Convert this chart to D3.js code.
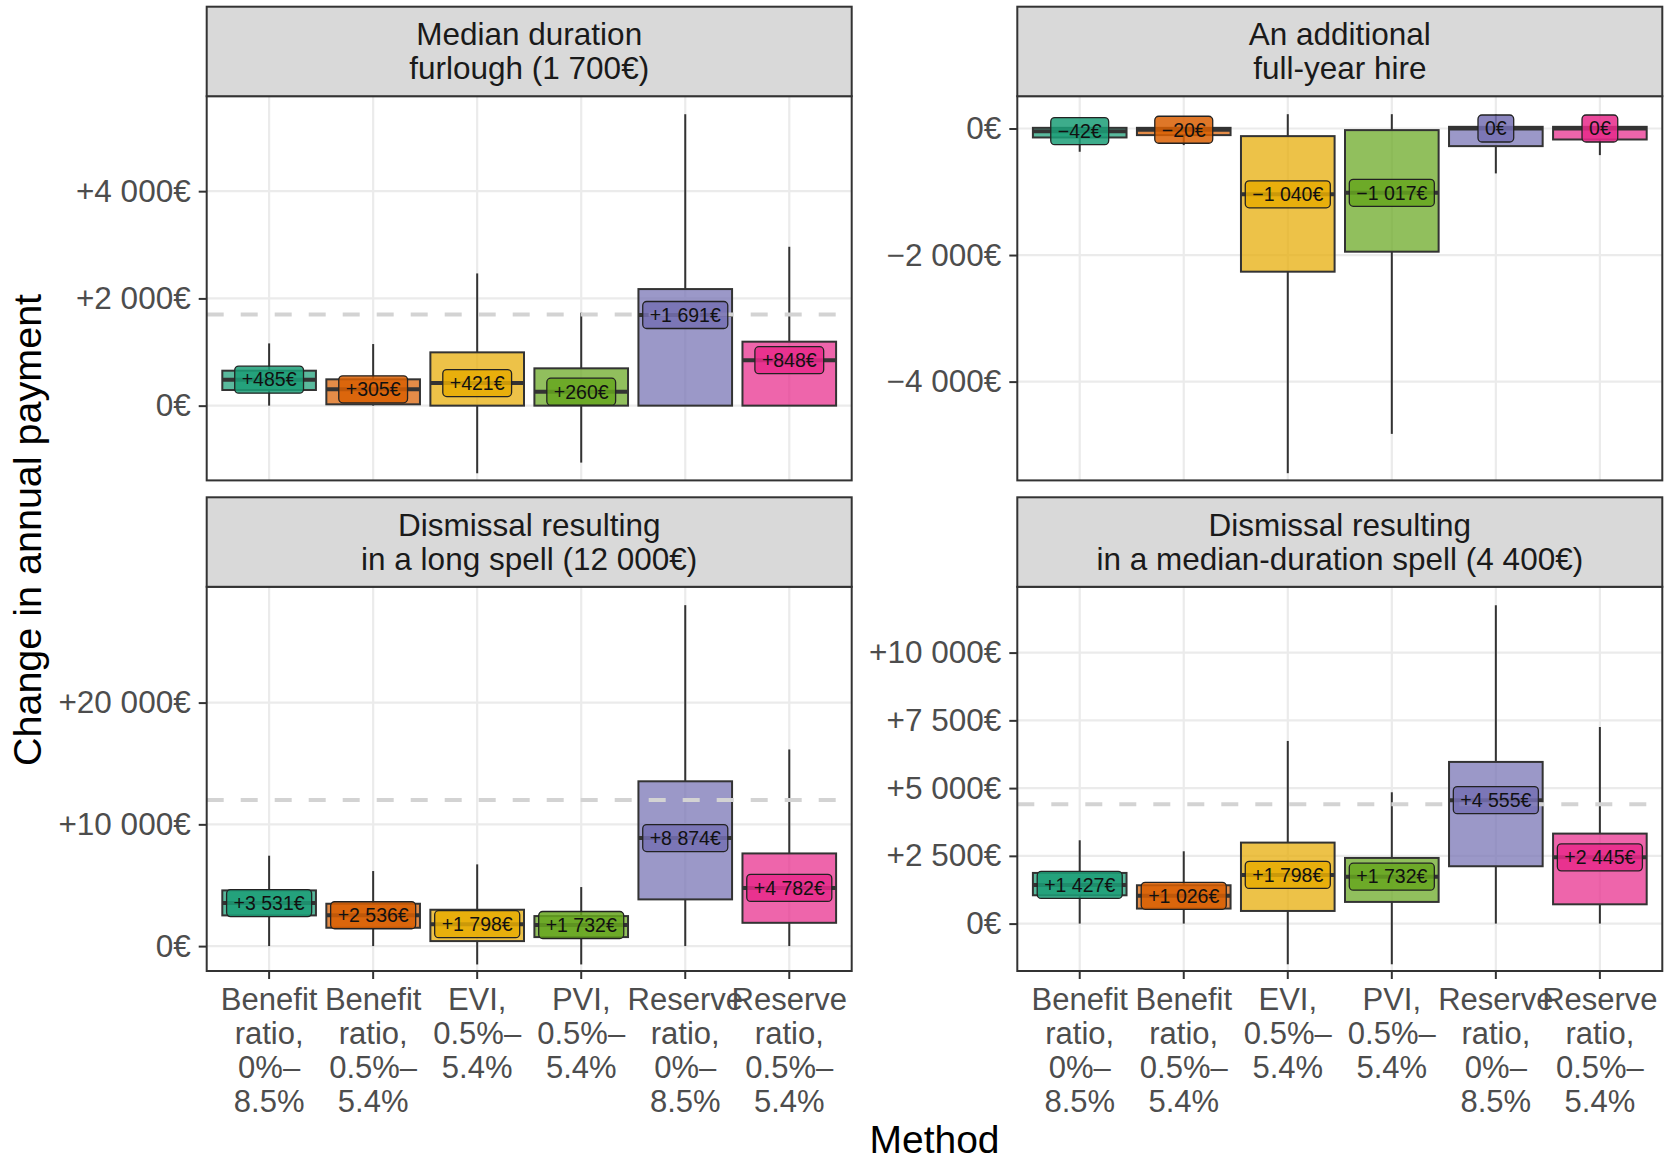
<!DOCTYPE html>
<html>
<head>
<meta charset="utf-8">
<script src="https://cdn.jsdelivr.net/npm/d3@7"></script>
<style>
body{margin:0;background:#fff;}
text{font-family:"Liberation Sans",Arial,sans-serif;}
</style>
</head>
<body>
<div id="chart"></div>
<script>
// categories (x) and their wrapped tick labels
const methods=["br0","br05","evi","pvi","rr0","rr05"];
const methodLines=[
    ["Benefit","ratio,","0%–","8.5%"],
    ["Benefit","ratio,","0.5%–","5.4%"],
    ["EVI,","0.5%–","5.4%"],
    ["PVI,","0.5%–","5.4%"],
    ["Reserve","ratio,","0%–","8.5%"],
    ["Reserve","ratio,","0.5%–","5.4%"]
];
const colors=["#1B9E77","#D95F02","#E6AB02","#66A61E","#7570B3","#E7298A"];

// box stats per method: [lower whisker, q1, median, q3, upper whisker]
const furloughStats=[
    [0,292,485,652,1161],
    [0,25,305,491,1149],
    [-1261,0,421,994,2466],
    [-1062,0,260,696,1733],
    [0,0,1691,2174,5435],
    [0,0,848,1193,2963]
];
const hireStats=[
    [-368,-142,-42,10,10],
    [-263,-105,-20,10,10],
    [-5447,-2263,-1040,-121,226],
    [-4826,-1947,-1017,-26,226],
    [-710,-279,0,26,220],
    [-421,-174,0,26,26]
];
const longSpellStats=[
    [0,2521,3531,4576,7425],
    [0,1507,2536,3480,6165],
    [-1507,411,1798,2987,6713],
    [-1507,740,1732,2466,4850],
    [0,3836,8874,13536,28003],
    [0,1913,4782,7611,16150]
];
const medianSpellStats=[
    [0,1045,1427,1870,3075],
    [0,554,1026,1415,2669],
    [-1501,467,1798,2989,6740],
    [-1501,800,1732,2423,4846],
    [0,2116,4555,5966,11747],
    [0,712,2445,3321,7254]
];

// tick values per facet
const furloughTicks=[0,2000,4000];
const hireTicks=[-4000,-2000,0];
const longSpellTicks=[0,10000,20000];
const medianSpellTicks=[0,2500,5000,7500,10000];

const facets=[
    {title:["Median duration","furlough (1 700€)"],stats:furloughStats,ticks:furloughTicks,domain:[-1394,5771],ref:1700,col:0,row:0},
    {title:["An additional","full-year hire"],stats:hireStats,ticks:hireTicks,domain:[-5561,510],ref:null,col:1,row:0},
    {title:["Dismissal resulting","in a long spell (12 000€)"],stats:longSpellStats,ticks:longSpellTicks,domain:[-2045,29511],ref:12000,col:0,row:1},
    {title:["Dismissal resulting","in a median-duration spell (4 400€)"],stats:medianSpellStats,ticks:medianSpellTicks,domain:[-1749,12428],ref:4400,col:1,row:1}
];

const locale=d3.formatLocale({decimal:".",thousands:"\u00a0",grouping:[3],currency:["","€"],minus:"\u2212"});
const fmt=locale.format("+,.0f");
const euro=v=>v===0?"0€":fmt(v)+"€";

// layout
const colX=[206.7,1017.3];
const rowY=[6.7,497.3];
const stripH=89.5, panelW=645, panelH=384.2;
const ink="#333333";

const svg=d3.select("#chart").append("svg")
    .attr("width",1668)
    .attr("height",1160);

facets.forEach(f=>{
    const px=colX[f.col], sy=rowY[f.row], py=sy+stripH;
    const g=svg.append("g").attr("transform",`translate(${px},${py})`);

    const x=d3.scaleBand().domain(methods).range([0,panelW]).paddingInner(0.1).paddingOuter(0.15);
    const y=d3.scaleLinear().domain(f.domain).range([panelH,0]);
    const bw=x.bandwidth();
    const cx=m=>x(m)+bw/2;

    // grid
    g.append("g").selectAll("line").data(f.ticks).join("line")
        .attr("x1",0).attr("x2",panelW)
        .attr("y1",d=>y(d)).attr("y2",d=>y(d))
        .attr("stroke","#ebebeb").attr("stroke-width",2.2);
    g.append("g").selectAll("line").data(methods).join("line")
        .attr("x1",d=>cx(d)).attr("x2",d=>cx(d))
        .attr("y1",0).attr("y2",panelH)
        .attr("stroke","#ebebeb").attr("stroke-width",2.2);

    const rows=f.stats.map((s,j)=>({m:methods[j],lo:s[0],q1:s[1],med:s[2],q3:s[3],hi:s[4],c:colors[j]}));

    // boxplots: whiskers only outside the box
    const bx=g.append("g").selectAll("g").data(rows).join("g");
    bx.append("line")
        .attr("x1",d=>cx(d.m)).attr("x2",d=>cx(d.m))
        .attr("y1",d=>y(d.lo)).attr("y2",d=>y(d.q1))
        .attr("stroke",ink).attr("stroke-width",2);
    bx.append("line")
        .attr("x1",d=>cx(d.m)).attr("x2",d=>cx(d.m))
        .attr("y1",d=>y(d.q3)).attr("y2",d=>y(d.hi))
        .attr("stroke",ink).attr("stroke-width",2);
    bx.append("rect")
        .attr("x",d=>x(d.m)).attr("width",bw)
        .attr("y",d=>y(d.q3)).attr("height",d=>Math.max(0.5,y(d.q1)-y(d.q3)))
        .attr("fill",d=>d.c).attr("fill-opacity",0.72)
        .attr("stroke",ink).attr("stroke-width",2);
    bx.append("line")
        .attr("x1",d=>x(d.m)).attr("x2",d=>x(d.m)+bw)
        .attr("y1",d=>y(d.med)).attr("y2",d=>y(d.med))
        .attr("stroke",ink).attr("stroke-width",4);

    // reference amount
    if(f.ref!==null){
        g.append("line")
            .attr("x1",0).attr("x2",panelW)
            .attr("y1",y(f.ref)).attr("y2",y(f.ref))
            .attr("stroke","#d3d3d3").attr("stroke-width",4)
            .attr("stroke-dasharray","17,17");
    }

    // median labels
    const lb=g.append("g").selectAll("g").data(rows).join("g")
        .attr("transform",d=>`translate(${cx(d.m)},${y(d.med)})`);
    lb.append("rect")
        .attr("y",-13.5).attr("height",27).attr("rx",4)
        .attr("fill",d=>d.c).attr("fill-opacity",0.85)
        .attr("stroke","#222").attr("stroke-width",1.3);
    const lt=lb.append("text")
        .attr("text-anchor","middle").attr("dy","0.35em")
        .attr("font-size","19.5px").attr("fill","#111")
        .text(d=>euro(d.med));
    lt.each(function(){
        const w=this.getComputedTextLength()+14;
        d3.select(this.parentNode).select("rect").attr("x",-w/2).attr("width",w);
    });

    // panel border
    g.append("rect").attr("width",panelW).attr("height",panelH)
        .attr("fill","none").attr("stroke",ink).attr("stroke-width",2);

    // y axis
    const ya=g.append("g").call(d3.axisLeft(y).tickValues(f.ticks).tickFormat(euro).tickSize(8).tickPadding(8));
    ya.select(".domain").remove();
    ya.selectAll(".tick line").attr("stroke",ink).attr("stroke-width",2);
    ya.selectAll(".tick text").attr("font-size","31.5px").attr("fill","#4d4d4d")
        .attr("font-family","'Liberation Sans',Arial,sans-serif");

    // strip
    const st=svg.append("g").attr("transform",`translate(${px},${sy})`);
    st.append("rect").attr("width",panelW).attr("height",stripH)
        .attr("fill","#d9d9d9").attr("stroke",ink).attr("stroke-width",2);
    st.selectAll("text").data(f.title).join("text")
        .attr("x",panelW/2).attr("y",(d,k)=>38.5+k*34)
        .attr("text-anchor","middle").attr("font-size","31.5px").attr("fill","#1a1a1a")
        .text(d=>d);

    // x axis on bottom row only
    if(f.row===1){
        const xa=g.append("g").attr("transform",`translate(0,${panelH})`)
            .call(d3.axisBottom(x).tickSize(8).tickFormat(""));
        xa.select(".domain").remove();
        xa.selectAll(".tick line").attr("stroke",ink).attr("stroke-width",2);
        xa.selectAll(".tick").each(function(d,j){
            d3.select(this).selectAll(".lbl").data(methodLines[j]).join("text")
                .attr("class","lbl")
                .attr("y",(t,k)=>38.5+k*34)
                .attr("text-anchor","middle").attr("font-size","31px").attr("fill","#4d4d4d")
                .attr("font-family","'Liberation Sans',Arial,sans-serif")
                .text(t=>t);
        });
    }
});

// axis titles
svg.append("text")
    .attr("transform","translate(41,530)rotate(-90)")
    .attr("text-anchor","middle").attr("font-size","39.5px").attr("fill","#000")
    .text("Change in annual payment");
svg.append("text")
    .attr("x",934.5).attr("y",1153)
    .attr("text-anchor","middle").attr("font-size","39px").attr("fill","#000")
    .text("Method");
</script>
</body>
</html>
